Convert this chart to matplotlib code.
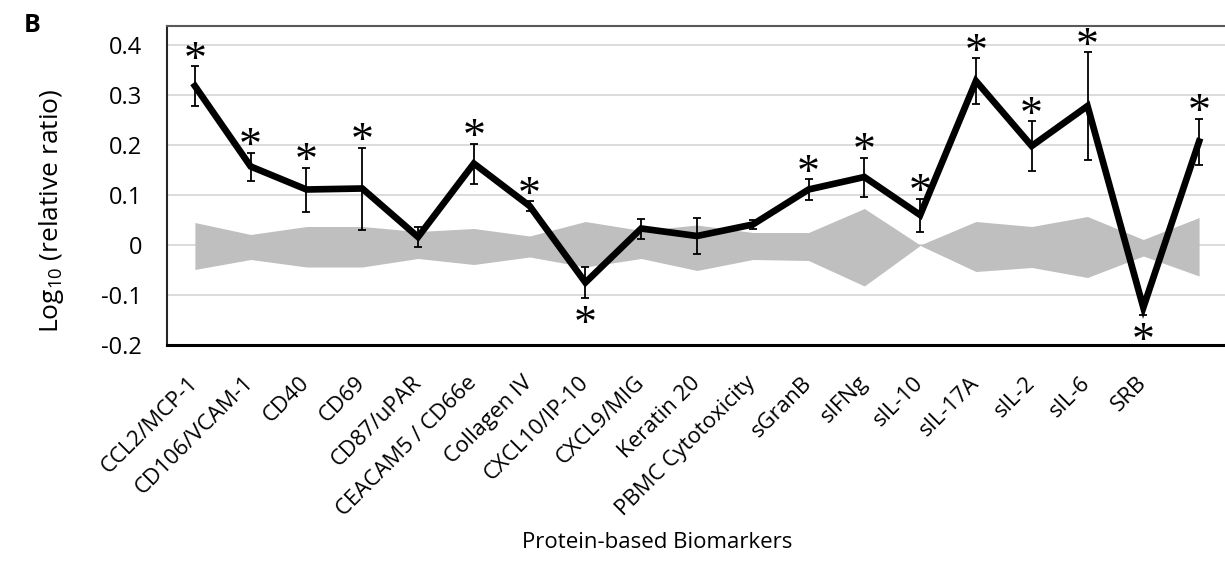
import numpy as np
import matplotlib
matplotlib.use("Agg")
import matplotlib.pyplot as plt

plt.rcParams["font.family"] = ["Open Sans", "DejaVu Sans"]
plt.rcParams["mathtext.fontset"] = "custom"
plt.rcParams["mathtext.rm"] = "Open Sans"
plt.rcParams["mathtext.it"] = "Open Sans"
plt.rcParams["mathtext.bf"] = "Open Sans:bold"

# Biomarker categories (last slot is an unlabeled category)
categories = ["CCL2/MCP-1", "CD106/VCAM-1", "CD40", "CD69", "CD87/uPAR",
              "CEACAM5 / CD66e", "Collagen IV", "CXCL10/IP-10", "CXCL9/MIG",
              "Keratin 20", "PBMC Cytotoxicity", "sGranB", "sIFNg", "sIL-10",
              "sIL-17A", "sIL-2", "sIL-6", "SRB", ""]

# Mean log10 relative ratio and error
log_ratio = [0.318, 0.157, 0.111, 0.113, 0.016, 0.163, 0.078, -0.075, 0.033,
             0.018, 0.041, 0.111, 0.136, 0.060, 0.328, 0.198, 0.278, -0.125, 0.207]
error = [0.040, 0.028, 0.044, 0.082, 0.020, 0.040, 0.010, 0.031, 0.020,
         0.036, 0.009, 0.021, 0.039, 0.033, 0.046, 0.050, 0.108, 0.015, 0.046]

# Reference variability band
band_upper = [0.045, 0.021, 0.037, 0.037, 0.027, 0.033, 0.018, 0.047, 0.029,
              0.040, 0.025, 0.025, 0.073, 0.000, 0.047, 0.037, 0.057, 0.011, 0.055]
band_lower = [-0.049, -0.029, -0.044, -0.044, -0.027, -0.039, -0.024, -0.044, -0.027,
              -0.051, -0.029, -0.031, -0.082, -0.001, -0.053, -0.045, -0.065, -0.022, -0.062]

# Significance flags (asterisks)
significant = [1, 1, 1, 1, 0, 1, 1, 1, 0, 0, 0, 1, 1, 1, 1, 1, 1, 1, 1]

yticks = [-0.2, -0.1, 0.0, 0.1, 0.2, 0.3, 0.4]
ytick_labels = ["-0.2", "-0.1", "0", "0.1", "0.2", "0.3", "0.4"]

W, H = 1225, 561
fig = plt.figure(figsize=(W / 100, H / 100), dpi=100)
ax = fig.add_axes([167 / W, (H - 345) / H, 1060 / W, 319 / H])

x = np.arange(len(categories))
vals = np.array(log_ratio)
errs = np.array(error)

ax.fill_between(x, band_lower, band_upper, color="#bfbfbf", linewidth=0, zorder=2)
ax.plot(x, vals, color="black", linewidth=4.8, solid_joinstyle="miter", zorder=4)
ax.errorbar(x, vals, yerr=errs, fmt="none", ecolor="black", elinewidth=1.3,
            capsize=3.2, capthick=1.3, zorder=5)

for xi, v, e, s in zip(x, vals, errs, significant):
    if not s:
        continue
    if v >= 0:
        ax.annotate("*", (xi, v + e), xytext=(0, -5), textcoords="offset points",
                    ha="center", va="baseline", fontsize=33,
                    family="Liberation Serif", zorder=6)
    else:
        ax.annotate("*", (xi, v - e), xytext=(0, -28), textcoords="offset points",
                    ha="center", va="baseline", fontsize=33,
                    family="Liberation Serif", zorder=6)

ax.set_xlim(-0.5, len(categories) - 0.5)
ax.set_ylim(-0.2, 0.438)
ax.set_yticks(yticks)
ax.set_yticklabels(ytick_labels)
ax.set_xticks(x)
ax.set_xticklabels(categories, rotation=45, ha="right", va="center",
                   rotation_mode="anchor")
ax.tick_params(axis="both", length=0, colors="black")
ax.tick_params(axis="y", pad=18, labelsize=17)
ax.tick_params(axis="x", pad=25, labelsize=16)

ax.set_axisbelow(True)
ax.yaxis.grid(True, color="#d9d9d9", linewidth=1.3, zorder=0)
ax.xaxis.grid(False)
for t, gl in zip(yticks, ax.yaxis.get_gridlines()):
    if t <= -0.2:
        gl.set_visible(False)

ax.spines["right"].set_visible(False)
ax.spines["top"].set_color("#595959")
ax.spines["top"].set_linewidth(1.5)
ax.spines["left"].set_color("#262626")
ax.spines["left"].set_linewidth(1.5)
ax.spines["bottom"].set_color("black")
ax.spines["bottom"].set_linewidth(2.2)

ax.set_ylabel("Log$_{10}$ (relative ratio)", fontsize=19)
ax.yaxis.set_label_coords((66 - 167) / 1060, 0.42)

fig.text(657 / W, 1 - 543 / H, "Protein-based Biomarkers", fontsize=16,
         ha="center", va="center")
fig.text(24 / W, 1 - 25 / H, "B", fontsize=18, fontweight="bold",
         ha="left", va="center")

fig.savefig("out.png", dpi=100)
